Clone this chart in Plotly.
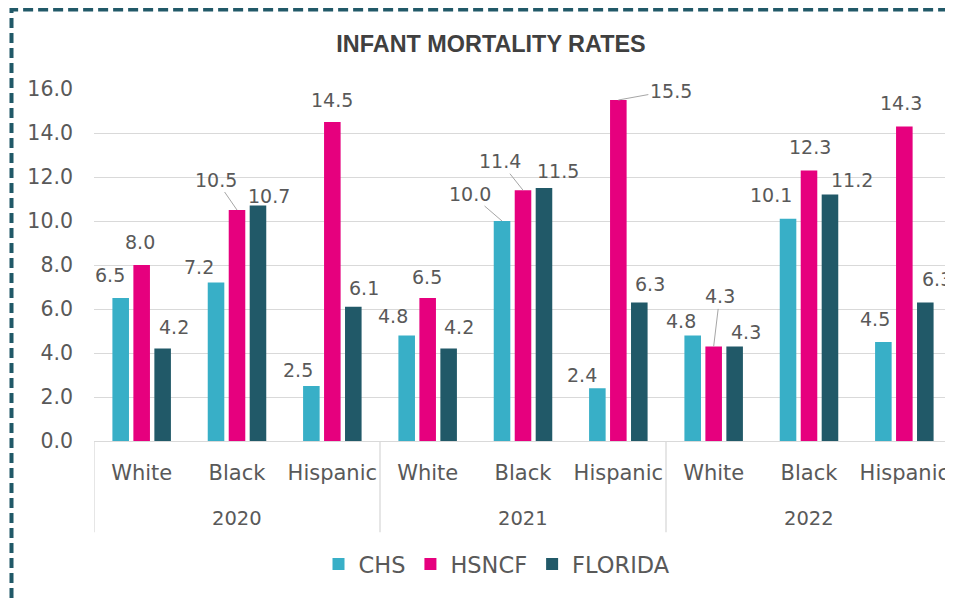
import plotly.graph_objects as go

# ---- data ----
years = ["2020", "2021", "2022"]
races = ["White", "Black", "Hispanic"]
chs = [6.5, 7.2, 2.5, 4.8, 10.0, 2.4, 4.8, 10.1, 4.5]
hsncf = [8.0, 10.5, 14.5, 6.5, 11.4, 15.5, 4.3, 12.3, 14.3]
florida = [4.2, 10.7, 6.1, 4.2, 11.5, 6.3, 4.3, 11.2, 6.3]
yticks = [0, 2, 4, 6, 8, 10, 12, 14, 16]

categories = [f"{y} {r}" for y in years for r in races]
race_ticks = [r for y in years for r in races]

# ---- label placement (pixel offsets from bar top, style only) ----
chs_off = [(-11, -23), (-17, -16), (-13, -16.5), (-14, -19), (-32, -27.5), (-15, -13),
           (-11.5, -14), (-17, -24), (-8, -23.5)]
hsncf_off = [(-1.5, -23.5), (-21, -30.5), (0, -22.5), (-1, -21), (-23, -29), (52.5, -9.5),
             (6, -50), (1, -23), (-3, -23.5)]
florida_off = [(11, -22), (11, -10), (11, -19), (10, -22), (14, -17), (11, -18),
               (11.5, -14.5), (22.5, -14.5), (12, -23)]
chs_lead = [False, False, False, False, True, False, False, False, False]
hsncf_lead = [False, True, False, False, True, True, True, False, False]
florida_lead = [False] * 9

# page body has an 8px margin: draw the figure 8px smaller, in shifted coordinates
OFF = 8
W, H = 953 - OFF, 599 - OFF
ML, MR, MT = 94 - OFF, 1, 89 - OFF
Y0 = 441.5 - OFF
MB = H - Y0
pw, ph = W - ML - MR, H - MT - MB
BARGAP, GROUPGAP = 0.34, 0.21
slot = pw / len(categories)
bar_slot = slot * (1 - BARGAP) / 3

TXT = "#595959"
FONT = "DejaVu Sans, Verdana, sans-serif"


def py2y(p):
    """reference-pixel y -> paper fraction"""
    return (Y0 - (p - OFF)) / ph


def px2x(p):
    return (p - OFF - ML) / pw


series = [
    ("CHS", chs, "#38AFC7", chs_off, chs_lead),
    ("HSNCF", hsncf, "#E6007E", hsncf_off, hsncf_lead),
    ("FLORIDA", florida, "#215968", florida_off, florida_lead),
]

fig = go.Figure()
annotations = []
for k, (name, vals, col, offs, leads) in enumerate(series):
    fig.add_trace(go.Bar(x=categories, y=vals, name=name, marker_color=col,
                         marker_line_width=0, hoverinfo="x+y+name"))
    bshift = (k - 1) * bar_slot
    for cat, v, (dx, dy), lead in zip(categories, vals, offs, leads):
        a = dict(x=cat, y=v, xref="x", yref="y", text=f"{v:.1f}",
                 font=dict(family=FONT, size=19, color=TXT), xshift=bshift)
        if lead:
            a.update(showarrow=True, ax=dx, ay=dy, arrowhead=0, arrowwidth=1,
                     arrowcolor="#A6A6A6", standoff=0, startstandoff=0)
        else:
            a.update(showarrow=False, xshift=bshift + dx, yshift=-dy,
                     xanchor="center", yanchor="middle")
        annotations.append(a)

# year labels under each group
for i, yr in enumerate(years):
    annotations.append(dict(x=3 * i + 1, y=py2y(519), xref="x", yref="paper", text=yr,
                            showarrow=False, xanchor="center", yanchor="middle",
                            font=dict(family=FONT, size=19.5, color=TXT)))

shapes = []
# group dividers
for xb in [-0.5, 2.5, 5.5, 8.5]:
    shapes.append(dict(type="line", xref="x", yref="paper", x0=xb, x1=xb,
                       y0=0, y1=py2y(533), line=dict(color="#D9D9D9", width=1.3)))
# dashed chart border
shapes.append(dict(type="rect", xref="paper", yref="paper",
                   x0=px2x(11.5), x1=px2x(975), y0=py2y(625), y1=py2y(9.5),
                   line=dict(color="#215968", width=4, dash="10px,5px"),
                   fillcolor="rgba(0,0,0,0)", layer="above"))

fig.update_layout(
    width=W, height=H,
    margin=dict(l=ML, r=MR, t=MT, b=MB, autoexpand=False),
    paper_bgcolor="white", plot_bgcolor="white",
    font=dict(family=FONT, color=TXT),
    title=dict(text="<b>INFANT MORTALITY RATES</b>", x=(491 - OFF) / W, xanchor="center",
               y=1 - (44 - OFF) / H, yanchor="middle",
               font=dict(family="Liberation Sans, Arial, sans-serif", size=23.4, color="#404040")),
    barmode="group", bargap=BARGAP, bargroupgap=GROUPGAP,
    showlegend=True,
    legend=dict(orientation="h", x=px2x(497), xanchor="center", y=py2y(565),
                yanchor="middle", font=dict(family=FONT, size=22.5, color=TXT),
                itemwidth=30, traceorder="normal"),
    yaxis=dict(range=[0, 16], tickvals=yticks, tickformat=".1f", showgrid=True,
               gridcolor="#D9D9D9", gridwidth=1.3, zeroline=False, showline=False,
               tickfont=dict(size=20.5, color=TXT), ticks="", ticklabelstandoff=20,
               automargin=False),
    xaxis=dict(type="category", categoryorder="array", categoryarray=categories,
               tickvals=categories, ticktext=race_ticks, range=[-0.5, 8.5],
               showline=True, linecolor="#D9D9D9", linewidth=1.3, ticks="",
               tickfont=dict(size=21, color=TXT), ticklabelstandoff=13,
               showgrid=False, automargin=False),
    annotations=annotations,
    shapes=shapes,
)

fig.write_html("out.html")
